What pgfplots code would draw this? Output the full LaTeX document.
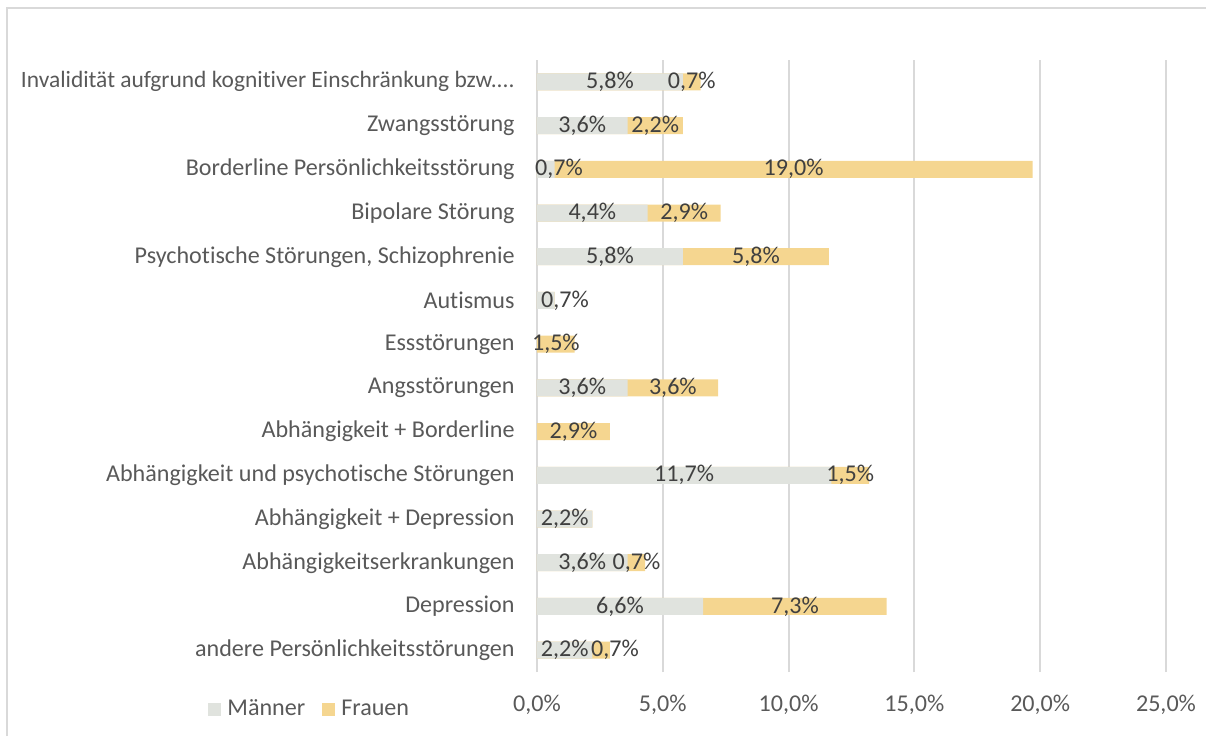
\documentclass[border=0pt]{standalone}
\usepackage{fontspec}
\setmainfont{Carlito}[Ligatures=CommonOff]
\usepackage{pgfplots}
\usepackage{pgfplotstable}
\pgfplotsset{compat=1.18}
\definecolor{mcol}{HTML}{E0E3DE}
\definecolor{fcol}{HTML}{F5D690}
\definecolor{txt}{HTML}{595959}
\definecolor{dtxt}{HTML}{404040}
\definecolor{gridc}{HTML}{D9D9D9}

\pgfplotstableread{
y M F mx fx
13 5.8 0.7 2.9 6.15
12 3.6 2.2 1.8 4.7
11 0.7 19.0 0.87 10.2
10 4.4 2.9 2.2 5.85
9 5.8 5.8 2.9 8.7
8 0.7 0 1.11 0
7 0 1.5 0 0.75
6 3.6 3.6 1.8 5.4
5 0 2.9 0 1.45
4 11.7 1.5 5.85 12.45
3 2.2 0 1.1 0
2 3.6 0.7 1.8 3.95
1 6.6 7.3 3.3 10.25
0 2.2 0.7 1.1 3.1
}\data

\begin{document}
\begin{tikzpicture}[font=\fontsize{12.05}{14.5}\selectfont]
\path[use as bounding box] (0,0) rectangle (603pt,368pt);
\draw[gridc, line width=1pt] (3.5pt,0) -- (3.5pt,364pt) -- (603pt,364pt);
\begin{axis}[
  at={(268.5pt,32pt)}, anchor=south west,
  scale only axis, width=314.5pt, height=306pt,
  xmin=0, xmax=25, ymin=-0.5, ymax=13.5,
  clip=false,
  xtick={0,5,10,15,20,25},
  ytick={0,1,2,3,4,5,6,7,8,9,10,11,12,13},
  yticklabels={andere Persönlichkeitsstörungen, Depression, Abhängigkeitserkrankungen, Abhängigkeit + Depression, Abhängigkeit und psychotische Störungen, Abhängigkeit + Borderline, Angsstörungen, Essstörungen, Autismus, {Psychotische Störungen, Schizophrenie}, Bipolare Störung, Borderline Persönlichkeitsstörung, Zwangsstörung, {\fontsize{11.72}{14}\selectfont Invalidität aufgrund kognitiver Einschränkung bzw.{.}{.}{.}}},
  xticklabel={\pgfmathprintnumber[fixed,fixed zerofill,precision=1,use comma]{\tick}\%},
  /pgf/number format/assume math mode=true,
  xmajorgrids,
  major grid style={gridc, line width=1pt},
  axis line style={draw=none},
  major tick length=0pt,
  tick style={draw=none},
  yticklabel style={txt, inner sep=0pt, anchor=east, xshift=-11pt},
  xticklabel style={txt, inner sep=0pt, anchor=north, yshift=-11.5pt},
  legend image code/.code={\fill[#1] (0pt,-3.25pt) rectangle (6.5pt,3.25pt);},
  legend style={at={(-0.523,-0.0613)}, anchor=west, draw=none, fill=none,
    inner sep=0pt, text=txt, legend columns=2,
    nodes={inner sep=0pt},
    /tikz/every odd column/.append style={column sep=3pt},
    /tikz/every even column/.append style={column sep=8.5pt}},
]
\addlegendimage{fill=mcol, draw=none}
\addlegendentry{Männer}
\addlegendimage{fill=fcol, draw=none}
\addlegendentry{Frauen}
\addplot[forget plot, xbar, bar shift=0pt, bar width=8.5pt, fill=fcol, draw=none]
  table[x expr=\thisrow{M}+\thisrow{F}, y=y]{\data};
\addplot[forget plot, xbar, bar shift=0pt, bar width=8.5pt, fill=mcol, draw=none]
  table[x=M, y=y]{\data};
\addplot[forget plot, draw=none, mark=none, point meta=\thisrow{M},
  nodes near coords={\pgfmathfloatifflags{\pgfplotspointmeta}{0}{}{\pgfmathprintnumber[fixed,fixed zerofill,precision=1,use comma]{\pgfplotspointmeta}\%}},
  every node near coord/.append style={dtxt, anchor=center, inner sep=0pt}]
  table[x=mx, y=y]{\data};
\addplot[forget plot, draw=none, mark=none, point meta=\thisrow{F},
  nodes near coords={\pgfmathfloatifflags{\pgfplotspointmeta}{0}{}{\pgfmathprintnumber[fixed,fixed zerofill,precision=1,use comma]{\pgfplotspointmeta}\%}},
  every node near coord/.append style={dtxt, anchor=center, inner sep=0pt}]
  table[x=fx, y=y]{\data};
\end{axis}
\end{tikzpicture}
\end{document}
